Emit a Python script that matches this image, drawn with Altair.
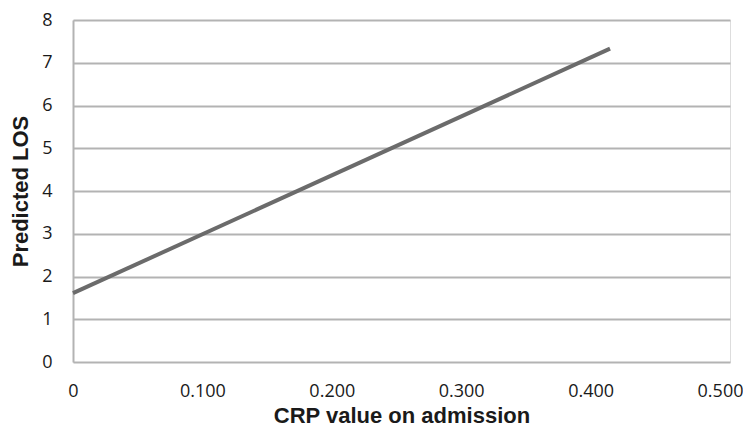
import altair as alt
import pandas as pd

crp = [0.0, 0.415]
los = [1.61, 7.33]
x_ticks = [0, 0.1, 0.2, 0.3, 0.4, 0.5]
y_ticks = [0, 1, 2, 3, 4, 5, 6, 7, 8]

df = pd.DataFrame({"crp": crp, "los": los})

font = "Open Sans"

line = alt.Chart(df).mark_line(color="#6b6b6b", strokeWidth=4).encode(
    x=alt.X(
        "crp:Q",
        scale=alt.Scale(domain=[0, 0.5077], nice=False, zero=True),
        axis=alt.Axis(
            values=x_ticks,
            labelExpr="datum.value == 0 ? '0' : format(datum.value, '.3f')",
            title="CRP value on admission",
            grid=False,
            ticks=False,
            domain=False,
            labelPadding=20,
            labelFontSize=18,
            labelFont=font,
            labelColor="#1a1a1a",
            titleFont="Liberation Sans",
            titleFontSize=22,
            titleFontWeight="bold",
            titleColor="#1a1a1a",
            titlePadding=5,
            labelFlush=False,
        ),
    ),
    y=alt.Y(
        "los:Q",
        scale=alt.Scale(domain=[0, 8], nice=False),
        axis=alt.Axis(
            values=y_ticks,
            title="Predicted LOS",
            grid=True,
            gridColor="#b3b3b3",
            gridWidth=2,
            ticks=False,
            domain=True,
            domainColor="#b3b3b3",
            domainWidth=2,
            labelPadding=21,
            labelFontSize=18,
            labelFont=font,
            labelColor="#1a1a1a",
            titleFont="Liberation Sans",
            titleFontSize=22,
            titleFontWeight="bold",
            titleColor="#1a1a1a",
            titlePadding=9,
        ),
    ),
)

chart = line.properties(
    width=657,
    height=342,
    autosize=alt.AutoSizeParams(type="none"),
    padding={"left": 65, "top": 12, "right": 13, "bottom": 65},
).configure_view(stroke=None).configure(background="white")

chart.save("out.html", embed_options={"renderer": "svg", "actions": False})
